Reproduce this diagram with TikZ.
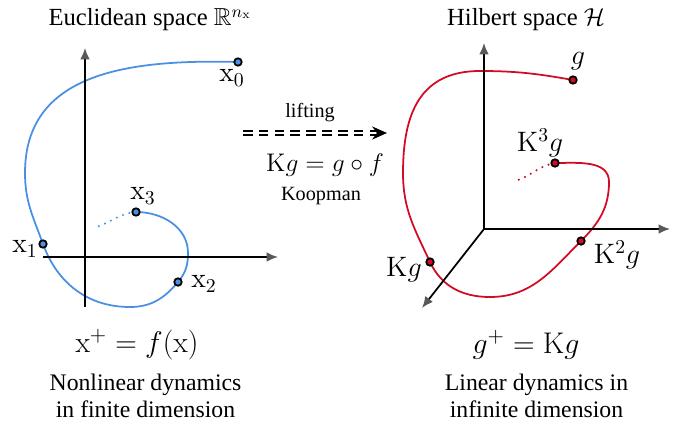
\documentclass[tikz,border=0pt]{standalone}
\usepackage{fix-cm}
\usepackage{amsmath,amssymb}
\usepackage[no-math]{fontspec}
\setmainfont{Liberation Serif}
\usetikzlibrary{arrows.meta,positioning,backgrounds}
\definecolor{curveblue}{RGB}{74,144,226}
\definecolor{curvered}{RGB}{210,10,35}

\begin{document}
\begin{tikzpicture}[
    titletext/.style={font=\fontsize{14}{16}\selectfont, inner sep=0pt, anchor=base},
    captext/.style={font=\fontsize{13.5}{15.4}\selectfont, align=center, inner sep=1pt},
    eqn/.style={font=\fontsize{17}{19}\selectfont, inner sep=1pt},
    statelbl/.style={font=\fontsize{16}{18}\selectfont, inner sep=1pt},
    midtext/.style={font=\fontsize{11.5}{13}\selectfont, inner sep=1pt},
    midmath/.style={font=\fontsize{14.5}{16}\selectfont, inner sep=1pt},
    bluept/.style={circle, draw=black, fill=curveblue, line width=1pt, inner sep=0pt, minimum size=0.15cm},
    redpt/.style={circle, draw=black, fill=curvered, line width=1pt, inner sep=0pt, minimum size=0.15cm},
    bluecurve/.style={draw=curveblue, line width=1pt},
    redcurve/.style={draw=curvered, line width=1pt},
    tailcurve/.style={line width=1.3pt, line cap=round, dash pattern=on 0pt off 3.8pt},
    axisline/.style={line width=1pt, draw=black, -{Latex[length=6.5pt, width=5.5pt, color=black!65]}},
    liftarrow/.style={double, double distance=1.5pt, line width=0.7pt, dash pattern=on 5.5pt off 3.5pt, -{Stealth[length=8.5pt, width=7.5pt]}}
]
    \useasboundingbox (0,0) rectangle (13.78,8.48);

    % Euclidean space (left)
    \node[titletext] (ltitle) at (3.0,7.96) {Euclidean space $\mathbb{R}^{n_\mathrm{x}}$};
    \coordinate (lo) at (1.7,3.34);
    \coordinate (lyend) at (1.7,7.52);
    \coordinate (lybot) at (1.7,2.34);
    \coordinate (lxend) at (5.56,3.34);
    \coordinate (lxbot) at (0.86,3.34);
    \coordinate (lleft) at (0.5,5.02);
    \coordinate (lbot) at (2.6,2.34);
    \coordinate (lright) at (3.76,3.42);
    \coordinate (ltail) at (1.86,3.92);

    \node[bluept] (x0) at (4.76,7.24) {};
    \node[bluept] (x1) at (0.86,3.6) {};
    \node[bluept] (x2) at (3.56,2.84) {};
    \node[bluept] (x3) at (2.72,4.24) {};

    \node[statelbl] (x0lbl) at (4.64,6.92) {$\mathrm{x}_0$};
    \node[statelbl] (x1lbl) at (0.5,3.5) {$\mathrm{x}_1$};
    \node[statelbl] (x2lbl) at (4.08,2.8) {$\mathrm{x}_2$};
    \node[statelbl] (x3lbl) at (2.86,4.56) {$\mathrm{x}_3$};

    % Hilbert space (right)
    \node[titletext] (rtitle) at (10.52,7.96) {Hilbert space $\mathcal{H}$};
    \coordinate (ro) at (9.68,3.9);
    \coordinate (ryend) at (9.68,7.62);
    \coordinate (rxend) at (13.4,3.9);
    \coordinate (rzend) at (8.44,2.32);
    \coordinate (rtop) at (9.6,7.06);
    \coordinate (rleft) at (8.06,5.02);
    \coordinate (rbot) at (9.8,2.54);
    \coordinate (rright) at (12.18,4.84);
    \coordinate (rtail) at (10.36,4.88);

    \node[redpt] (g0) at (11.46,6.88) {};
    \node[redpt] (g1) at (8.6,3.24) {};
    \node[redpt] (g2) at (11.62,3.66) {};
    \node[redpt] (g3) at (11.1,5.22) {};

    \node[statelbl] (g0lbl) at (11.56,7.26) {$g$};
    \node[statelbl] (g1lbl) at (8.08,3.08) {$\mathrm{K}g$};
    \node[statelbl] (g2lbl) at (12.34,3.38) {$\mathrm{K}^2g$};
    \node[statelbl] (g3lbl) at (10.8,5.62) {$\mathrm{K}^3g$};

    % Lifting
    \node[midtext] (lifting) at (6.2,6.22) {lifting};
    \coordinate (lift0) at (4.86,5.82);
    \coordinate (lift1) at (7.74,5.82);
    \draw[liftarrow] (lift0) -- (lift1);
    \node[midmath] (koop) at (6.5,5.18) {$\mathrm{K}g = g \circ f$};
    \node[midtext] (koopman) at (6.42,4.56) {Koopman};

    % Dynamics
    \node[eqn] (leq) at (2.74,1.58) {$\mathrm{x}^+ = f(\mathrm{x})$};
    \node[captext] (lcap) at (2.91,0.57) {Nonlinear dynamics\\in finite dimension};
    \node[eqn] (req) at (10.52,1.58) {$g^+ = \mathrm{K}g$};
    \node[captext] (rcap) at (10.73,0.57) {Linear dynamics in\\infinite dimension};

    \begin{scope}[on background layer]
        % trajectories
        \draw[bluecurve] (x0.center) .. controls (2.5,7.3) and (0.5,7.0) .. (lleft)
            to[out=-90,in=110] (x1.center) to[out=-70,in=180] (lbot)
            to[out=0,in=-130] (x2.center) to[out=50,in=-90] (lright)
            to[out=90,in=0] (x3.center);
        \draw[curveblue, tailcurve] (x3.center) to[out=185,in=15] (ltail);
        \draw[redcurve] (g0.center) to[out=170,in=0] (rtop)
            to[out=180,in=90,looseness=1.2] (rleft)
            to[out=-90,in=115] (g1.center) to[out=-65,in=180] (rbot)
            to[out=0,in=-135] (g2.center) to[out=45,in=-90] (rright)
            to[out=90,in=0] (g3.center);
        \draw[curvered, tailcurve] (g3.center) to[out=190,in=20] (rtail);
        % axes
        \draw[axisline] (lybot) -- (lyend);
        \draw[axisline] (lxbot) -- (lxend);
        \draw[axisline] (ro) -- (ryend);
        \draw[axisline] (ro) -- (rxend);
        \draw[axisline] (ro) -- (rzend);
    \end{scope}

\end{tikzpicture}
\end{document}
